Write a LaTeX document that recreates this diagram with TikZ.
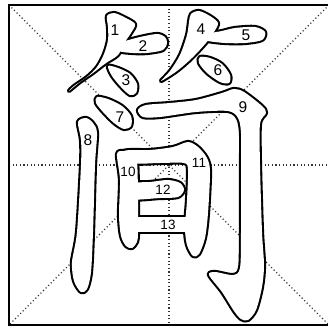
\documentclass[tikz,border=0pt]{standalone}
\usepackage{fontspec}
\setmainfont{Liberation Sans}
\begin{document}
\begin{tikzpicture}[x=1pt,y=-1pt,
  guide/.style={line width=1.1pt,black!80,dash pattern=on 1.1pt off 2.5pt},
  frame/.style={line width=1.8pt,black},
  lbl/.style={inner sep=0pt,font=\fontsize{15.5}{15.5}\selectfont},
  lblsm/.style={inner sep=0pt,font=\fontsize{13.5}{13.5}\selectfont},
  smo/.style={smooth cycle,tension=0.5}]
\useasboundingbox (0,0) rectangle (327,331);
\fill[white] (0,0) rectangle (327,331);
% guides
\coordinate (tl) at (9,5); \coordinate (tr) at (329,5);
\coordinate (bl) at (9,325); \coordinate (br) at (329,325);
\coordinate (tm) at (169,5); \coordinate (bm) at (169,325);
\coordinate (lm) at (9,165); \coordinate (rm) at (329,165);
\draw[guide] (tl) -- (br);
\draw[guide] (tr) -- (bl);
\draw[guide] (tm) -- (bm);
\draw[guide] (lm) -- (rm);
\draw[frame] (tl) rectangle (br);
\newcommand\strokeshapes[1]{%
 % 1
 \path[#1] plot[smo] coordinates {(107,16)(114,13)(124,17)(135,24)(131,33)(125,42)(118,55)(106,63)(93,73)(80,82)(69,91)(74,86)(87,77)(97,67)(104,54)(108,40)(108,27)};
 % 2
 \path[#1] plot[smo] coordinates {(117,43)(125,41)(140,37)(157,34)(165,37)(167,43)(163,50)(147,53)(133,53)(119,51)};
 % 3
 \path[#1] plot[smo] coordinates {(108,66)(118,68)(130,74)(137,84)(136,93)(130,95)(121,87)(112,76)};
 % 4
 \path[#1] plot[smo] coordinates {(191,14)(199,11)(210,16)(218,23)(214,32)(206,43)(192,58)(177,71)(161,81)(170,71)(180,55)(187,35)(189,22)};
 % 5
 \path[#1] plot[smo] coordinates {(203,38)(212,33)(222,31)(235,28)(255,27)(265,32)(262,40)(245,43)(225,43)(208,41)};
 % 6
 \path[#1] plot[smo] coordinates {(200,57)(210,58)(222,64)(230,75)(229,83)(220,82)(207,73)(199,63)};
 % 7
 \path[#1] plot[smo] coordinates {(97,97)(108,99)(122,106)(131,116)(131,126)(124,129)(114,123)(103,112)(96,103)};
 % 8
 \path[#1] plot[smo] coordinates {(78,122)(86,118)(93,123)(97,133)(95,165)(93,232)(91,272)(87,289)(81,292)(74,281)(72,262)(77,232)(81,165)(81,140)};
 % 9
 \path[#1] plot[smo] coordinates {(138,110)(146,105)(170,103)(196,100)(222,93)(234,89)(244,92)(262,106)(266,113)(260,124)(260,165)(262,232)(264,265)(262,287)(256,310)(248,320)(241,319)(234,311)(222,292)(209,275)(215,272)(233,275)(240,268)(241,232)(241,167)(241,133)(238,118)(228,111)(196,112)(160,117)(143,117)};
 % 10
 \path[#1] plot[smo] coordinates {(117,154)(124,151)(132,153)(137,162)(138,200)(138,232)(137,242)(132,248)(126,246)(121,236)(119,215)(120,180)};
 % 11
 \path[#1] plot[smo] coordinates {(124,151)(150,150)(173,147)(188,142)(198,147)(207,158)(210,172)(208,213)(205,238)(199,254)(193,256)(187,245)(185,228)(187,200)(188,170)(184,163)(160,163)(130,163)};
 % 12
 \path[#1] plot[smo] coordinates {(128,184)(150,182)(168,180)(180,183)(184,190)(178,197)(160,198)(128,199)};
 % 13
 \path[#1] (130,217) rectangle (195,232);
}
\strokeshapes{draw=black,line width=4.2pt,line join=round}
\strokeshapes{fill=white}
\node[lbl] (n1) at (115,30) {1};
\node[lbl] (n2) at (143,46) {2};
\node[lbl] (n3) at (126,80) {3};
\node[lbl] (n4) at (201,29) {4};
\node[lbl] (n5) at (246,35) {5};
\node[lbl] (n6) at (218,70) {6};
\node[lbl] (n7) at (120,117) {7};
\node[lbl] (n8) at (88,140) {8};
\node[lbl] (n9) at (243,107) {9};
\node[lblsm] (n10) at (128,172) {10};
\node[lblsm] (n11) at (199,163) {11};
\node[lblsm] (n12) at (163,190) {12};
\node[lblsm] (n13) at (168,225) {13};
\end{tikzpicture}
\end{document}
